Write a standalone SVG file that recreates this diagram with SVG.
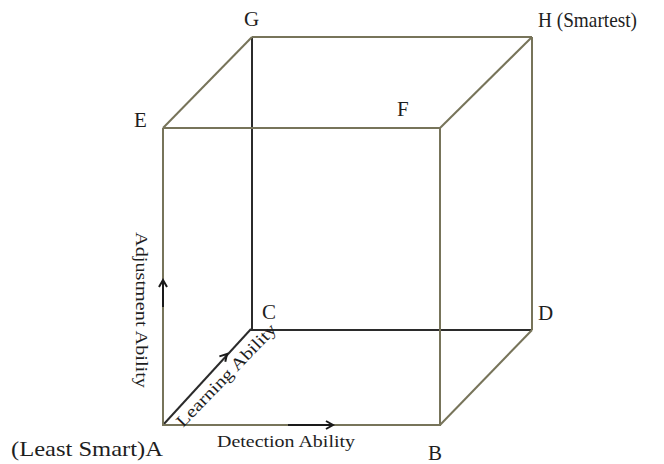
<svg xmlns="http://www.w3.org/2000/svg" width="664" height="464" viewBox="0 0 664 464">
<style>
.ol{stroke:#77745a;stroke-width:2;fill:none}
.dk{stroke:#2b2b2b;stroke-width:2;fill:none}
.ar{stroke:#1a1a1a;stroke-width:2;fill:none}
text{font-family:"Liberation Serif","Times New Roman",serif;fill:#1e1e1e}
.lb{font-size:21px}
.ax{font-size:17px}
</style>
<rect width="664" height="464" fill="#fff"/>
<g id="connectors">
<line class="dk" x1="252" y1="37" x2="252" y2="330"/>
<line class="dk" x1="250" y1="330" x2="532" y2="330"/>
<line class="dk" x1="163" y1="425" x2="251" y2="329"/>
<line class="ol" x1="163" y1="128" x2="252" y2="37"/>
<line class="ol" x1="252" y1="37" x2="532" y2="37"/>
<line class="ol" x1="532" y1="37" x2="440" y2="128"/>
<line class="ol" x1="532" y1="37" x2="532" y2="330"/>
<line class="ol" x1="532" y1="330" x2="440" y2="425"/>
<polyline class="ol" points="163,128 440,128 440,425 163,425 163,128"/>
<line class="ar" x1="163" y1="307" x2="163" y2="281"/>
<polyline class="ar" points="159,287 163,280 167,287"/>
<line class="ar" x1="288" y1="425" x2="333" y2="425"/>
<polyline class="ar" points="326,421 333,425 326,429"/>
<polyline class="ar" points="219.4,356.4 227,354 225.3,361.8"/>
</g>
<g id="node-G"><text class="lb" x="244" y="26">G</text></g>
<g id="node-H"><text class="lb" x="538" y="27" textLength="99" lengthAdjust="spacingAndGlyphs">H (Smartest)</text></g>
<g id="node-E"><text class="lb" x="134" y="127">E</text></g>
<g id="node-F"><text class="lb" x="397" y="116">F</text></g>
<g id="node-C"><text class="lb" x="262" y="319">C</text></g>
<g id="node-D"><text class="lb" x="538" y="320">D</text></g>
<g id="node-B"><text class="lb" x="428" y="460">B</text></g>
<g id="node-A"><text class="lb" x="11" y="456" textLength="152" lengthAdjust="spacingAndGlyphs">(Least Smart)A</text></g>
<g id="axis-labels">
<text class="ax" x="217" y="447" textLength="138" lengthAdjust="spacingAndGlyphs">Detection Ability</text>
<text class="ax" transform="translate(136,232) rotate(90)" x="0" y="0" textLength="156" lengthAdjust="spacingAndGlyphs">Adjustment Ability</text>
<text class="ax" transform="translate(183,428) rotate(-46)" x="0" y="0" textLength="136" lengthAdjust="spacingAndGlyphs">Learning Ability</text>
</g>
</svg>
